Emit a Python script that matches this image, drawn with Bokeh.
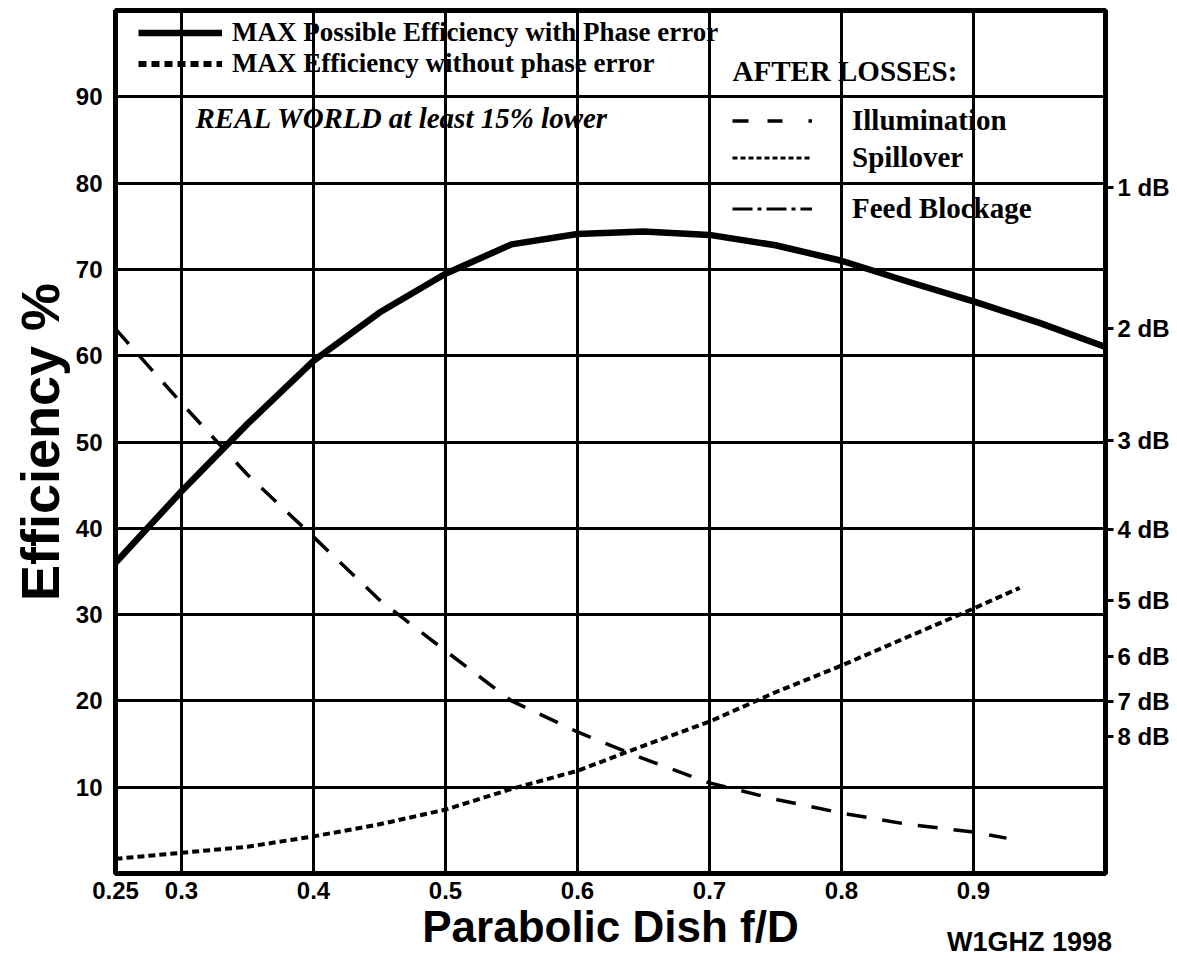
import math
from bokeh.plotting import figure
from bokeh.layouts import column
from bokeh.models import (FixedTicker, LinearAxis, Label, Legend, LegendItem, Range1d, Div)
from bokeh.embed import file_html
from bokeh.resources import INLINE

# ---------------- data ----------------
fd_phase = [0.25, 0.30, 0.35, 0.40, 0.45, 0.50, 0.55, 0.60, 0.65, 0.70, 0.75, 0.80, 0.85, 0.90, 0.95, 1.00]
eff_phase = [36.0, 44.3, 52.1, 59.4, 65.0, 69.5, 72.9, 74.1, 74.4, 74.0, 72.8, 71.0, 68.6, 66.3, 63.8, 61.0]

fd_illum = [0.25, 0.30, 0.35, 0.40, 0.45, 0.50, 0.55, 0.60, 0.65, 0.70, 0.75, 0.80, 0.85, 0.90, 0.925]
eff_illum = [63.1, 54.5, 46.2, 39.0, 31.7, 25.8, 20.0, 16.4, 13.3, 10.5, 8.6, 7.0, 5.7, 4.8, 4.1]

fd_spill = [0.25, 0.30, 0.35, 0.40, 0.45, 0.50, 0.55, 0.60, 0.65, 0.70, 0.75, 0.80, 0.85, 0.90, 0.935]
eff_spill = [1.7, 2.4, 3.1, 4.3, 5.7, 7.4, 9.8, 11.9, 14.8, 17.6, 21.0, 24.1, 27.4, 30.7, 33.1]

x_ticks = [0.25, 0.3, 0.4, 0.5, 0.6, 0.7, 0.8, 0.9]
x_tick_labels = ["0.25", "0.3", "0.4", "0.5", "0.6", "0.7", "0.8", "0.9"]
x_grid = [0.3, 0.4, 0.5, 0.6, 0.7, 0.8, 0.9]
y_ticks = [10, 20, 30, 40, 50, 60, 70, 80, 90]
db_levels = [1, 2, 3, 4, 5, 6, 7, 8]
db_labels = ["1 dB", "2 dB", "3 dB", "4 dB", "5 dB", "6 dB", "7 dB", "8 dB"]
signature = "W1GHZ 1998"

SANS = "Liberation Sans"
SERIF = "Liberation Serif"

fig = figure(width=1177, height=960, x_range=Range1d(0.25, 1.0), y_range=Range1d(0, 100),
             output_backend="svg", toolbar_location=None,
             min_border_left=115, min_border_right=72, min_border_top=10, min_border_bottom=87)
fig.title.visible = False
fig.background_fill_color = "white"
fig.border_fill_color = "white"
fig.outline_line_color = "black"
fig.outline_line_width = 5

# bottom axis
xa = fig.below[0]
xa.ticker = FixedTicker(ticks=x_ticks)
xa.major_label_overrides = {t: s for t, s in zip(x_ticks, x_tick_labels)}
xa.major_tick_out = 0
xa.major_tick_in = 0
xa.minor_tick_out = 0
xa.minor_tick_in = 0
xa.axis_line_width = 5
xa.major_label_standoff = 8
xa.major_label_text_font = SANS
xa.major_label_text_font_style = "bold"
xa.major_label_text_font_size = "24px"
xa.major_label_text_color = "black"
xa.axis_label = "Parabolic Dish f/D"
xa.axis_label_text_font = SANS
xa.axis_label_text_font_style = "bold"
xa.axis_label_text_font_size = "44px"
xa.axis_label_text_color = "black"
xa.axis_label_standoff = 0

# left axis
ya = fig.left[0]
ya.ticker = FixedTicker(ticks=y_ticks)
ya.major_tick_out = 0
ya.major_tick_in = 0
ya.minor_tick_out = 0
ya.minor_tick_in = 0
ya.axis_line_width = 5
ya.major_label_standoff = 13
ya.major_label_text_font = SANS
ya.major_label_text_font_style = "bold"
ya.major_label_text_font_size = "24px"
ya.major_label_text_color = "black"
ya.axis_label = "Efficiency %"
ya.axis_label_text_font = SANS
ya.axis_label_text_font_style = "bold"
ya.axis_label_text_font_size = "54px"
ya.axis_label_text_color = "black"
ya.axis_label_standoff = 3

# right axis in dB
db_pos = [round(100 * 10 ** (-d / 10.0), 3) for d in db_levels]
ra = LinearAxis(ticker=FixedTicker(ticks=db_pos),
                major_label_overrides={t: s for t, s in zip(db_pos, db_labels)})
ra.major_tick_out = 8
ra.major_tick_in = 0
ra.major_tick_line_width = 3
ra.minor_tick_out = 0
ra.minor_tick_in = 0
ra.axis_line_width = 5
ra.major_label_standoff = 4
ra.major_label_text_font = SANS
ra.major_label_text_font_style = "bold"
ra.major_label_text_font_size = "24px"
ra.major_label_text_color = "black"
fig.add_layout(ra, "right")

# grid
fig.xgrid.ticker = FixedTicker(ticks=x_grid)
fig.ygrid.ticker = FixedTicker(ticks=y_ticks)
for g in (fig.xgrid, fig.ygrid):
    g.grid_line_color = "black"
    g.grid_line_width = 3
    g.grid_line_alpha = 1.0

# curves
r_phase = fig.line(fd_phase, eff_phase, line_color="black", line_width=6.5, line_join="round")
r_illum = fig.line(fd_illum, eff_illum, line_color="black", line_width=3.5, line_dash="20 16")
r_spill = fig.line(fd_spill, eff_spill, line_color="black", line_width=4, line_dash="7 4")

# legend keys (no drawn curve: placeholder NaN data)
nan2 = [float("nan"), float("nan")]
k_noph = fig.line(nan2, nan2, line_color="black", line_width=6, line_dash="8 5")
k_illum = fig.line(nan2, nan2, line_color="black", line_width=3.5, line_dash="16 19 15 26 4 100")
k_spill = fig.line(nan2, nan2, line_color="black", line_width=3, line_dash="5 3")
k_feed = fig.line(nan2, nan2, line_color="black", line_width=3, line_dash="20 5 4 5")

common = dict(background_fill_alpha=0, border_line_alpha=0, padding=0, margin=0,
              label_text_font=SERIF, label_text_font_style="bold",
              label_text_color="black", inactive_fill_alpha=0,
              glyph_height=37, label_height=37, spacing=0)

leg1a = Legend(items=[LegendItem(label="MAX Possible Efficiency with Phase error", renderers=[r_phase])],
               location=(23, 822), glyph_width=84, label_standoff=10,
               label_text_font_size="27px", **common)
leg1b = Legend(items=[LegendItem(label="MAX Efficiency without phase error", renderers=[k_noph])],
               location=(23, 791), glyph_width=84, label_standoff=10,
               label_text_font_size="27px", **common)
leg2 = Legend(items=[LegendItem(label="Illumination", renderers=[k_illum]),
                     LegendItem(label="Spillover", renderers=[k_spill])],
              location=(617, 697), glyph_width=80, label_standoff=40,
              label_text_font_size="29px", **common)
leg3 = Legend(items=[LegendItem(label="Feed Blockage", renderers=[k_feed])],
              location=(617, 646), glyph_width=80, label_standoff=40,
              label_text_font_size="29px", **common)
for lg in (leg1a, leg1b, leg2, leg3):
    fig.add_layout(lg)

# texts inside the frame
fig.add_layout(Label(x=0.7174, y=93.0, text="AFTER LOSSES:", text_font=SERIF, text_font_style="bold",
                     text_font_size="29px", text_align="left", text_baseline="middle", text_color="black"))
fig.add_layout(Label(x=0.3106, y=87.5, text="REAL WORLD at least 15% lower", text_font=SERIF,
                     text_font_style="bold italic", text_font_size="29px", text_align="left",
                     text_baseline="middle", text_color="black"))

# signature in the bottom-right corner of the page
sig = Div(text=signature, width=220, height=31, margin=(-33, 0, 0, 947),
          styles={"font-family": SANS, "font-weight": "bold", "font-size": "27px",
                  "color": "black", "line-height": "31px", "white-space": "nowrap"})

p = column(fig, sig, spacing=0)

open("out.html", "w").write(file_html(p, INLINE))
